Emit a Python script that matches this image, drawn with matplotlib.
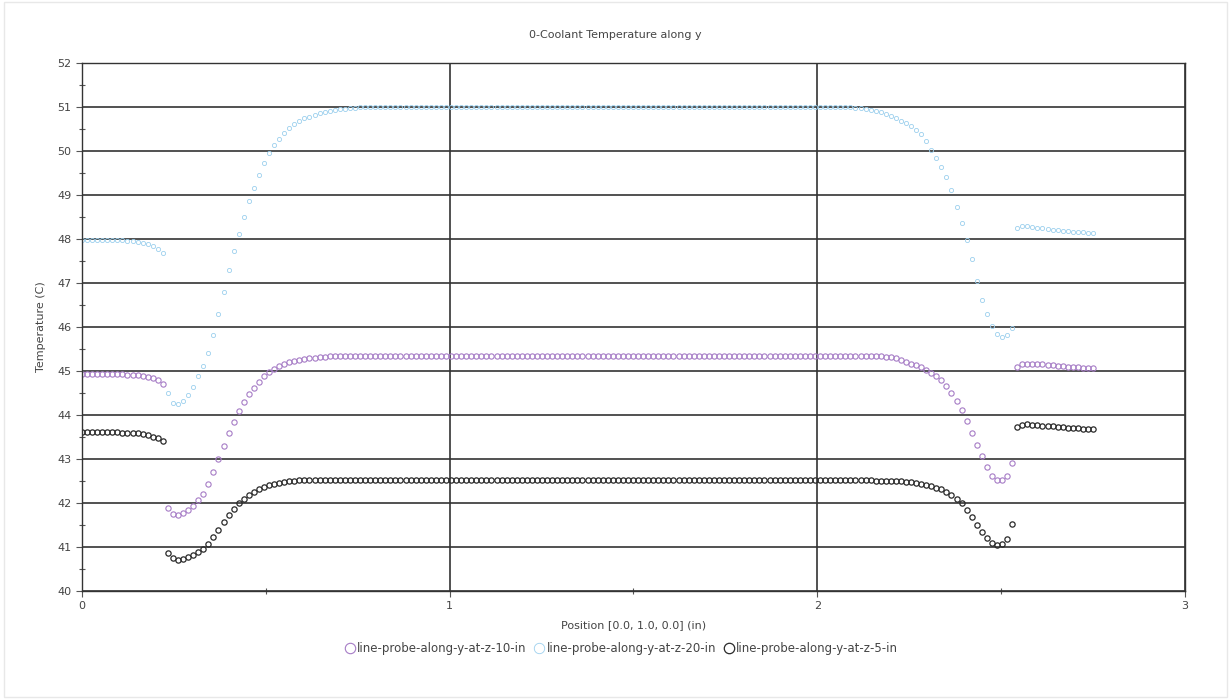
import matplotlib
matplotlib.use("Agg")
import matplotlib.pyplot as plt
from matplotlib.patches import Rectangle
import numpy as np

# probe positions along y (in), 201 evenly spaced probe points
position = np.linspace(0.0, 2.75, 201)

# z = 10 in probe
temp_z10 = [
    44.94, 44.94, 44.94, 44.94, 44.94, 44.94, 44.93, 44.93, 44.93, 44.92,
    44.92, 44.91, 44.89, 44.87, 44.84, 44.79, 44.70,
    41.88, 41.76, 41.73, 41.77, 41.84, 41.94, 42.06, 42.21, 42.43, 42.70,
    43.00, 43.30, 43.58, 43.85, 44.08, 44.29, 44.47, 44.62, 44.76, 44.88,
    44.98, 45.05, 45.11, 45.16, 45.20, 45.23, 45.25, 45.27, 45.29, 45.30,
    45.31, 45.32, 45.33, 45.34,
    45.35, 45.35, 45.35, 45.35, 45.35, 45.35, 45.35, 45.35, 45.35, 45.35,
    45.35, 45.35, 45.35, 45.35, 45.35, 45.35, 45.35, 45.35, 45.35, 45.35,
    45.35, 45.35, 45.35, 45.35, 45.35, 45.35, 45.35, 45.35, 45.35, 45.35,
    45.35, 45.35, 45.35, 45.35, 45.35, 45.35, 45.35, 45.35, 45.35, 45.35,
    45.35, 45.35, 45.35, 45.35, 45.35, 45.35, 45.35, 45.35, 45.35, 45.35,
    45.35, 45.35, 45.35, 45.35, 45.35, 45.35, 45.35, 45.35, 45.35, 45.35,
    45.35, 45.35, 45.35, 45.35, 45.35, 45.35, 45.35, 45.35, 45.35, 45.35,
    45.35, 45.35, 45.35, 45.35, 45.35, 45.35, 45.35, 45.35, 45.35, 45.35,
    45.35, 45.35, 45.35, 45.35, 45.35, 45.35, 45.35, 45.35, 45.35, 45.35,
    45.35, 45.35, 45.35, 45.35, 45.35, 45.35, 45.35, 45.35, 45.35,
    45.35, 45.35, 45.35, 45.34, 45.34, 45.34, 45.34, 45.33, 45.33, 45.32,
    45.31, 45.29, 45.25, 45.21, 45.17, 45.13, 45.08, 45.02, 44.95, 44.88,
    44.79, 44.66, 44.51, 44.32, 44.11, 43.87, 43.59, 43.32, 43.06, 42.81,
    42.61, 42.52, 42.53, 42.62, 42.90,
    45.10, 45.16, 45.17, 45.17, 45.16, 45.15, 45.14, 45.13, 45.12, 45.11,
    45.10, 45.09, 45.08, 45.07, 45.07, 45.06,
]

# z = 20 in probe
temp_z20 = [
    47.98, 47.98, 47.98, 47.98, 47.98, 47.98, 47.97, 47.97, 47.97, 47.96,
    47.95, 47.94, 47.92, 47.89, 47.85, 47.78, 47.68,
    44.50, 44.27, 44.24, 44.32, 44.45, 44.64, 44.88, 45.12, 45.42, 45.82,
    46.30, 46.80, 47.30, 47.72, 48.12, 48.50, 48.86, 49.15, 49.45, 49.72,
    49.96, 50.14, 50.28, 50.42, 50.52, 50.61, 50.68, 50.74, 50.78, 50.82,
    50.86, 50.88, 50.91, 50.93, 50.95, 50.96, 50.97, 50.98,
    51.00, 51.00, 51.00, 51.00, 51.00, 51.00, 51.00, 51.00, 51.00, 51.00,
    51.00, 51.00, 51.00, 51.00, 51.00, 51.00, 51.00, 51.00, 51.00, 51.00,
    51.00, 51.00, 51.00, 51.00, 51.00, 51.00, 51.00, 51.00, 51.00, 51.00,
    51.00, 51.00, 51.00, 51.00, 51.00, 51.00, 51.00, 51.00, 51.00, 51.00,
    51.00, 51.00, 51.00, 51.00, 51.00, 51.00, 51.00, 51.00, 51.00, 51.00,
    51.00, 51.00, 51.00, 51.00, 51.00, 51.00, 51.00, 51.00, 51.00, 51.00,
    51.00, 51.00, 51.00, 51.00, 51.00, 51.00, 51.00, 51.00, 51.00, 51.00,
    51.00, 51.00, 51.00, 51.00, 51.00, 51.00, 51.00, 51.00, 51.00, 51.00,
    51.00, 51.00, 51.00, 51.00, 51.00, 51.00, 51.00, 51.00, 51.00, 51.00,
    51.00, 51.00, 51.00, 51.00, 51.00,
    51.00, 50.99, 50.99, 50.98, 50.97, 50.96, 50.94, 50.91, 50.88, 50.84,
    50.80, 50.75, 50.69, 50.63, 50.56, 50.48, 50.38, 50.23, 50.02, 49.84,
    49.64, 49.42, 49.12, 48.72, 48.36, 47.98, 47.55, 47.05, 46.62, 46.30,
    46.02, 45.84, 45.78, 45.82, 45.98,
    48.26, 48.30, 48.29, 48.27, 48.25, 48.24, 48.22, 48.21, 48.20, 48.19,
    48.18, 48.17, 48.16, 48.15, 48.14, 48.13,
]

# z = 5 in probe
temp_z5 = [
    43.62, 43.62, 43.62, 43.62, 43.62, 43.61, 43.61, 43.61, 43.60, 43.60,
    43.59, 43.58, 43.56, 43.54, 43.51, 43.47, 43.40,
    40.87, 40.74, 40.71, 40.73, 40.77, 40.82, 40.88, 40.95, 41.07, 41.22,
    41.39, 41.56, 41.73, 41.87, 41.99, 42.10, 42.18, 42.25, 42.31, 42.36,
    42.40, 42.43, 42.46, 42.48, 42.50, 42.51,
    42.52, 42.52, 42.52, 42.52, 42.52, 42.52, 42.52, 42.52, 42.52, 42.52,
    42.52, 42.52, 42.52, 42.52, 42.52, 42.52, 42.52, 42.52, 42.52, 42.52,
    42.52, 42.52, 42.52, 42.52, 42.52, 42.52, 42.52, 42.52, 42.52, 42.52,
    42.52, 42.52, 42.52, 42.52, 42.52, 42.52, 42.52, 42.52, 42.52, 42.52,
    42.52, 42.52, 42.52, 42.52, 42.52, 42.52, 42.52, 42.52, 42.52, 42.52,
    42.52, 42.52, 42.52, 42.52, 42.52, 42.52, 42.52, 42.52, 42.52, 42.52,
    42.52, 42.52, 42.52, 42.52, 42.52, 42.52, 42.52, 42.52, 42.52, 42.52,
    42.52, 42.52, 42.52, 42.52, 42.52, 42.52, 42.52, 42.52, 42.52, 42.52,
    42.52, 42.52, 42.52, 42.52, 42.52, 42.52, 42.52, 42.52, 42.52, 42.52,
    42.52, 42.52, 42.52, 42.52, 42.52, 42.52, 42.52, 42.52, 42.52, 42.52,
    42.52, 42.52, 42.52, 42.52, 42.52, 42.52, 42.52, 42.52, 42.52, 42.52,
    42.52, 42.52,
    42.52, 42.52, 42.51, 42.51, 42.51,
    42.51, 42.50, 42.49, 42.48, 42.47, 42.45, 42.43, 42.41, 42.38, 42.35,
    42.31, 42.26, 42.18, 42.10, 41.99, 41.84, 41.68, 41.51, 41.35, 41.20,
    41.09, 41.04, 41.07, 41.19, 41.53,
    43.72, 43.78, 43.79, 43.78, 43.77, 43.76, 43.75, 43.74, 43.73, 43.72,
    43.71, 43.70, 43.70, 43.69, 43.69, 43.69,
]

series = [
    ("line-probe-along-y-at-z-10-in", temp_z10, "#a67cc6", 3.8, 0.8),
    ("line-probe-along-y-at-z-20-in", temp_z20, "#9cd0ee", 3.0, 0.6),
    ("line-probe-along-y-at-z-5-in", temp_z5, "#2a2a2a", 3.8, 0.9),
]

plt.rcParams["font.family"] = "DejaVu Sans"
fig = plt.figure(figsize=(12.31, 7.0), dpi=100)
ax = fig.add_axes([0.0666, 0.1557, 0.8960, 0.7543])

for label, temps, color, ms, mew in series:
    ax.plot(position, temps, linestyle="none", marker="o", markersize=ms,
            markerfacecolor="none", markeredgecolor=color, markeredgewidth=mew,
            label=label)

ax.set_xlim(0, 3)
ax.set_ylim(40, 52)
ax.set_xticks([0, 1, 2, 3])
ax.set_xticks(np.arange(0, 3.01, 0.5), minor=True)
ax.set_yticks(np.arange(40, 53, 1))
ax.set_yticks(np.arange(40, 52.01, 0.5), minor=True)
ax.grid(True, which="major", color="#333333", linewidth=1.2)
ax.set_axisbelow(True)
ax.tick_params(which="major", direction="out", length=4, width=0.8,
               labelsize=8, labelcolor="#444444", color="#555555")
ax.tick_params(which="minor", direction="inout", length=4, width=0.8, color="#555555")
for s in ax.spines.values():
    s.set_color("#333333")
    s.set_linewidth(1.0)

ax.set_xlabel("Position [0.0, 1.0, 0.0] (in)", fontsize=8, color="#444444", labelpad=6)
ax.set_ylabel("Temperature (C)", fontsize=8, color="#444444", labelpad=8)
fig.text(0.5, 0.95, "0-Coolant Temperature along y", ha="center", va="center",
         fontsize=8, color="#444444")

handles = [plt.Line2D([], [], linestyle="none", marker="o", markersize=7.5,
                      markerfacecolor="none", markeredgecolor=c, markeredgewidth=mw)
           for _, _, c, _, mw in series]
fig.legend(handles, [s[0] for s in series], loc="center", bbox_to_anchor=(0.504, 0.074),
           ncol=3, frameon=False, fontsize=8.5, handletextpad=0.0, columnspacing=0.5,
           handlelength=1.2, labelcolor="#444444")

# faint scan border around the page
fig.patches.append(Rectangle((0.003, 0.004), 0.994, 0.993, transform=fig.transFigure,
                             fill=False, edgecolor="#e8e8e8", linewidth=1.0))

fig.savefig("out.png", dpi=100, facecolor="white")
